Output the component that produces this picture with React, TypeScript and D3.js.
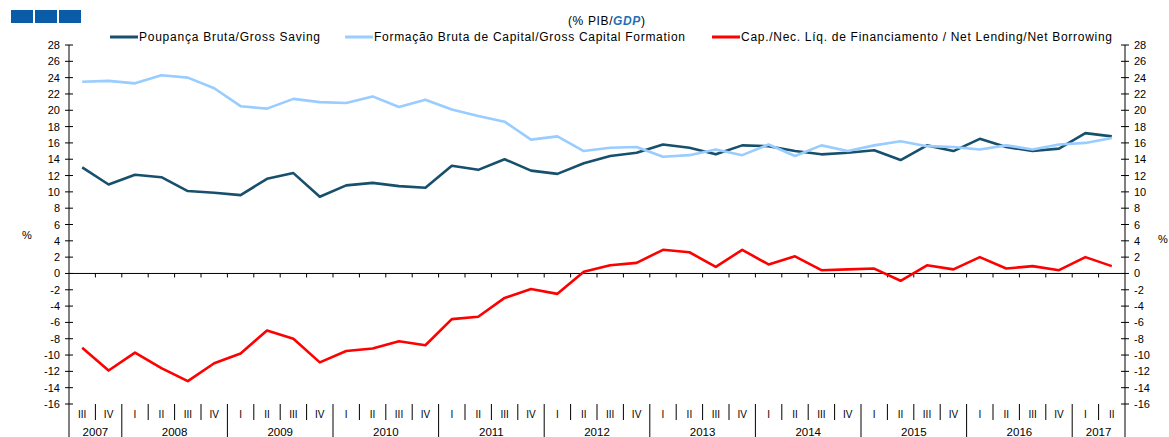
import * as d3 from 'd3';
import React from 'react';

// quarters 2007 Q3 .. 2017 Q2
const years = ['2007', '2008', '2009', '2010', '2011', '2012', '2013', '2014', '2015', '2016', '2017'];
const quarterNames = ['I', 'II', 'III', 'IV'];

const grossSaving = [
  13.0, 10.9, 12.1, 11.8, 10.1, 9.9, 9.6, 11.6, 12.3, 9.4,
  10.8, 11.1, 10.7, 10.5, 13.2, 12.7, 14.0, 12.6, 12.2, 13.5,
  14.4, 14.8, 15.8, 15.4, 14.6, 15.7, 15.6, 15.0, 14.6, 14.8,
  15.1, 13.9, 15.7, 15.0, 16.5, 15.5, 15.0, 15.3, 17.2, 16.8,
];
const grossCapital = [
  23.5, 23.6, 23.3, 24.3, 24.0, 22.7, 20.5, 20.2, 21.4, 21.0,
  20.9, 21.7, 20.4, 21.3, 20.1, 19.3, 18.6, 16.4, 16.8, 15.0,
  15.4, 15.5, 14.3, 14.5, 15.2, 14.5, 15.8, 14.4, 15.7, 15.0,
  15.7, 16.2, 15.6, 15.5, 15.2, 15.7, 15.2, 15.8, 16.0, 16.6,
];
const netLending = [
  -9.1, -11.9, -9.7, -11.6, -13.2, -11.0, -9.8, -7.0, -8.0, -10.9,
  -9.5, -9.2, -8.3, -8.8, -5.6, -5.3, -3.0, -1.9, -2.5, 0.2,
  1.0, 1.3, 2.9, 2.6, 0.8, 2.9, 1.1, 2.1, 0.4, 0.5,
  0.6, -0.9, 1.0, 0.5, 2.0, 0.6, 0.9, 0.4, 2.0, 0.9,
];
const yTicks = d3.range(-16, 29, 2);

const seriesList = [
  { name: 'Poupança Bruta/Gross Saving', values: grossSaving, color: '#17506c', lx: 110, tw: 181 },
  { name: 'Formação Bruta de Capital/Gross Capital Formation', values: grossCapital, color: '#99ccff', lx: 345, tw: 311 },
  { name: 'Cap./Nec. Líq. de Financiamento / Net Lending/Net Borrowing', values: netLending, color: '#ff0000', lx: 712, tw: 371 },
];

const W = 1169;
const H = 437;
const left = 69;
const right = 1125;
const top = 45;
const bottom = 404;
const font = '"Liberation Sans", Arial, sans-serif';

const quarters: { year: string; q: number; key: string }[] = [];
years.forEach((y) => {
  quarterNames.forEach((_, qi) => {
    if (y === '2007' && qi < 2) return;
    if (y === '2017' && qi > 1) return;
    quarters.push({ year: y, q: qi, key: y + '-' + qi });
  });
});

export default function App() {
  const x = d3.scaleBand().domain(quarters.map((d) => d.key)).range([left, right]).padding(0);
  const y = d3.scaleLinear().domain([-16, 28]).range([bottom, top]);
  const bw = x.bandwidth();
  const cx = (i: number) => (x(quarters[i].key) as number) + bw / 2;

  const line = d3.line<number>().x((_, i) => cx(i)).y((d) => y(d));

  const yearSpans = years.map((yr) => {
    const qs = quarters.filter((q) => q.year === yr);
    const x0 = x(qs[0].key) as number;
    const x1 = (x(qs[qs.length - 1].key) as number) + bw;
    return { yr, x0, x1 };
  });

  return (
    <div style={{ position: 'absolute', left: 0, top: 0 }}>
      <svg width={W} height={H} style={{ display: 'block', fontFamily: font }}>
        <rect width={W} height={H} fill="#fff" />
        {/* logo */}
        {[11, 35, 59].map((lx) => (
          <rect key={lx} x={lx} y={10} width={22} height={13} fill="#0a5ca6" />
        ))}
        <text x={568} y={25} fontSize={12} fill="#000" textLength={77} lengthAdjust="spacing">
          (% PIB/<tspan fill="#1f6fb5" fontStyle="italic" fontWeight="bold">GDP</tspan>)
        </text>

        {/* legend */}
        {seriesList.map((s) => (
          <g key={s.name}>
            <line x1={s.lx} x2={s.lx + 28} y1={37} y2={37} stroke={s.color} strokeWidth={3} />
            <text x={s.lx + 29} y={41} fontSize={12} fill="#000" textLength={s.tw} lengthAdjust="spacing">{s.name}</text>
          </g>
        ))}

        {/* value axes */}
        <line x1={left} x2={left} y1={top} y2={H} stroke="#000" strokeWidth={1} />
        <line x1={right} x2={right} y1={top} y2={H} stroke="#000" strokeWidth={1} />
        {yTicks.map((t) => (
          <g key={t}>
            <line x1={left - 4} x2={left + 4} y1={y(t)} y2={y(t)} stroke="#000" />
            <text x={left - 9} y={y(t) + 4} fontSize={11} textAnchor="end" fill="#000">{t}</text>
            <line x1={right - 4} x2={right + 4} y1={y(t)} y2={y(t)} stroke="#000" />
            <text x={right + 9} y={y(t) + 4} fontSize={11} textAnchor="start" fill="#000">{t}</text>
          </g>
        ))}
        <text x={27} y={239} fontSize={11} textAnchor="middle">%</text>
        <text x={1163} y={243} fontSize={11} textAnchor="middle">%</text>

        {/* zero line */}
        <line x1={left} x2={right} y1={y(0)} y2={y(0)} stroke="#000" />
        {quarters.slice(1).map((q) => (
          <line key={q.key} x1={x(q.key)} x2={x(q.key)} y1={y(0)} y2={y(0) + 4} stroke="#000" />
        ))}

        {/* category axis */}
        {quarters.map((q, i) => (
          <g key={q.key}>
            <text x={cx(i)} y={418} fontSize={10} textAnchor="middle" fill="#000">{quarterNames[q.q]}</text>
            {i > 0 && (
              <line x1={x(q.key)} x2={x(q.key)} y1={bottom} y2={q.q === 0 ? H : 420} stroke="#000" />
            )}
          </g>
        ))}
        {yearSpans.map((s) => (
          <text key={s.yr} x={(s.x0 + s.x1) / 2} y={436} fontSize={11.5} textAnchor="middle" fill="#000">{s.yr}</text>
        ))}

        {/* lines */}
        {seriesList.map((s) => (
          <path key={s.name} d={line(s.values) || ''} fill="none" stroke={s.color} strokeWidth={2.6} strokeLinejoin="round" />
        ))}
      </svg>
    </div>
  );
}
